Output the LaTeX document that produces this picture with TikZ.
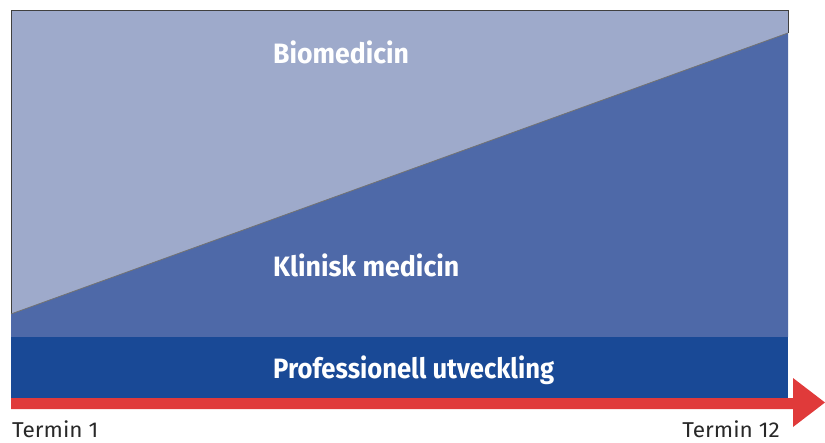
\documentclass[tikz,border=0pt]{standalone}
\usepackage{fontspec}
\usepackage{graphicx}
\setmainfont{Fira Sans}
\definecolor{lightblue}{RGB}{158,170,203}
\definecolor{midblue}{RGB}{78,105,168}
\definecolor{darkblue}{RGB}{25,73,150}
\definecolor{arrowred}{RGB}{224,58,58}
\definecolor{txtgray}{RGB}{40,40,40}
\tikzset{
  band/.style={text=white, anchor=base west, inner sep=0pt, font=\fontsize{28}{28}\selectfont\bfseries},
  term/.style={text=txtgray, anchor=base west, inner sep=0pt, font=\fontsize{21.5}{21.5}\selectfont},
}
\newcommand{\condensed}[2]{\scalebox{#1}[1]{#2}}
\begin{document}
\begin{tikzpicture}[x=1pt,y=-1pt]
\useasboundingbox (0,0) rectangle (825,442);
% bands
\fill[lightblue] (11,10) rectangle (788,337);
\fill[midblue] (11,314) -- (788,33) -- (788,337) -- (11,337) -- cycle;
\fill[darkblue] (11,337) rectangle (788,398);
\draw[black!75, line width=0.8pt] (11,314) -- (11,10) -- (788,10) -- (788,33);
\draw[black!55, line width=0.8pt] (11,314) -- (788,33);
% arrow
\fill[arrowred] (11,398) -- (793,398) -- (793,378) -- (825,402.5) -- (793,427) -- (793,409) -- (11,409) -- cycle;
% labels
\node[band] (bio) at (273,63) {\condensed{0.95}{Biomedicin}};
\node[band] (kli) at (273,276) {\condensed{0.955}{Klinisk medicin}};
\node[band] (pro) at (273,378) {\condensed{0.915}{Professionell utveckling}};
\node[term] (t1) at (12,437) {\condensed{1.05}{Termin 1}};
\node[term, anchor=base east] (t12) at (780,437) {\condensed{1.05}{Termin 12}};
\end{tikzpicture}
\end{document}
